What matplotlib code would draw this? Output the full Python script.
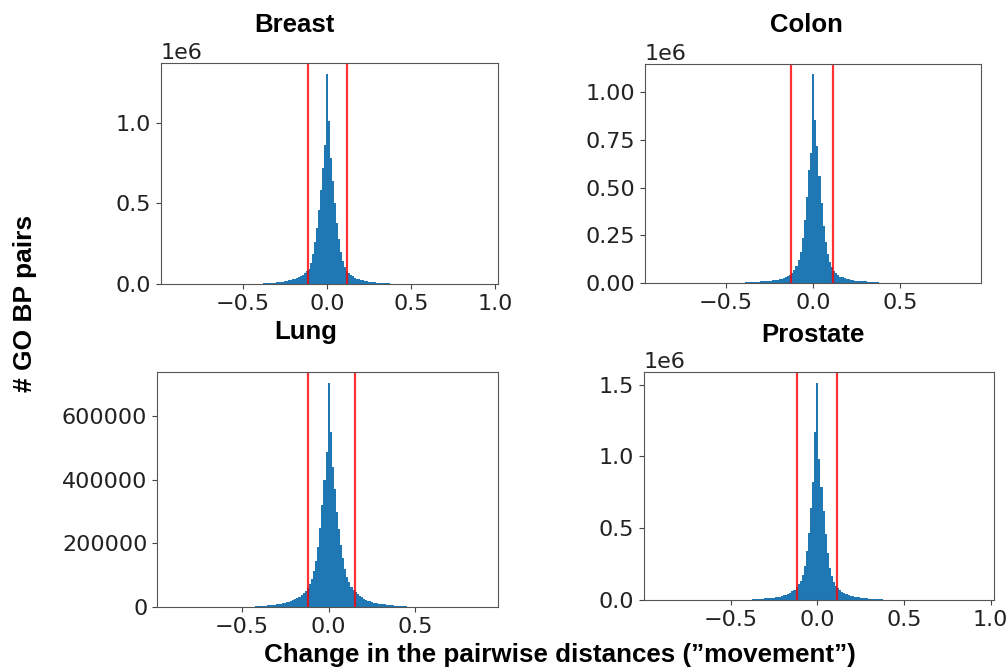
import numpy as np
import matplotlib
matplotlib.use("Agg")
import matplotlib.pyplot as plt

# histogram bins: width and index of first bin (bin k is centred on k * width)
bin_width = 0.012

# counts per bin in thousands
breast_start = -31
breast_counts = [4, 5, 6, 7, 8, 9, 10, 11, 13, 15, 17, 19, 22, 25, 28, 32,
                 37, 43, 50, 58, 68, 80, 95, 130, 185, 260, 350, 460, 580, 720,
                 860, 1305, 1010, 780, 640, 500, 380, 280, 200, 145, 105, 82,
                 66, 55, 47, 40, 34, 29, 25, 22, 19, 17, 15, 13, 11, 10, 9, 8,
                 7, 6, 5, 4, 4]

colon_start = -32
colon_counts = [3, 3, 4, 4, 5, 6, 7, 8, 9, 10, 11, 12, 13, 14, 16, 18, 20, 23,
                27, 31, 37, 44, 54, 68, 88, 118, 165, 235, 330, 450, 590, 680,
                1093, 856, 720, 560, 420, 300, 215, 150, 110, 82, 62, 50, 41,
                34, 29, 25, 22, 19, 17, 15, 13, 12, 11, 10, 9, 8, 7, 6, 5, 4,
                4, 3]

lung_start = -35
lung_counts = [2, 2.5, 3, 3.5, 4, 4.5, 5, 5.5, 6, 7, 8, 9, 10, 11.5, 13, 15,
               17, 19, 22, 25, 29, 33, 38, 44, 51, 60, 72, 88, 112, 145, 190,
               250, 320, 400, 488, 704, 550, 440, 370, 300, 245, 195, 155, 120,
               95, 78, 64, 54, 46, 40, 35, 30, 26, 23, 20, 18, 16, 14, 12.5,
               11, 10, 9, 8, 7, 6, 5.5, 5, 4.5, 4, 3.5, 3, 2.5, 2]

prostate_start = -31
prostate_counts = [5, 6, 7, 8, 9, 10, 11, 12, 13, 15, 17, 19, 21, 24, 27, 32,
                   37, 43, 50, 60, 72, 88, 108, 135, 175, 240, 340, 470, 640,
                   820, 1170, 1512, 980, 790, 620, 460, 330, 225, 165, 125,
                   100, 82, 68, 57, 48, 41, 35, 30, 26, 23, 20, 18, 16, 14,
                   12, 11, 10, 9, 8, 7, 6, 5, 4]

# thresholds (red lines)
breast_lines = [-0.111, 0.117]
colon_lines = [-0.128, 0.114]
lung_lines = [-0.119, 0.150]
prostate_lines = [-0.116, 0.112]

titles = ["Breast", "Colon", "Lung", "Prostate"]

W, H = 1008, 669
fig = plt.figure(figsize=(W / 100, H / 100), dpi=100)


def px_axes(left, top, right, bottom):
    return fig.add_axes([left / W, 1 - bottom / H, (right - left) / W, (bottom - top) / H])


panels = [
    (px_axes(161, 63, 498, 284), breast_start, breast_counts, breast_lines,
     (-0.988, 1.018), [-0.5, 0.0, 0.5, 1.0], [0, 0.5e6, 1.0e6]),
    (px_axes(645, 64, 981, 283), colon_start, colon_counts, colon_lines,
     (-0.965, 0.962), [-0.5, 0.0, 0.5], [0, 0.25e6, 0.5e6, 0.75e6, 1.0e6]),
    (px_axes(157, 372, 498, 607), lung_start, lung_counts, lung_lines,
     (-0.99, 0.977), [-0.5, 0.0, 0.5], [0, 200000, 400000, 600000]),
    (px_axes(644, 372, 994, 600), prostate_start, prostate_counts, prostate_lines,
     (-1.0, 1.019), [-0.5, 0.0, 0.5, 1.0], [0, 0.5e6, 1.0e6, 1.5e6]),
]

for ax, start, counts, lines, xlim, xt, yt in panels:
    counts = np.array(counts) * 1000
    idx = np.arange(start, start + len(counts))
    centers = idx * bin_width
    edges = np.append(centers - bin_width / 2, centers[-1] + bin_width / 2)
    ax.hist(centers, bins=edges, weights=counts, color="#1f77b4")
    for x in lines:
        ax.axvline(x, color="red", alpha=0.8, lw=1.6)
    ax.set_xlim(*xlim)
    ax.set_ylim(0, counts.max() * 1.05)
    ax.set_xticks(xt)
    ax.set_yticks(yt)
    ax.tick_params(labelsize=16, colors="#222222", color="#444444")
    ax.yaxis.get_offset_text().set_fontsize(16)
    ax.yaxis.get_offset_text().set_color("#222222")
    for s in ax.spines.values():
        s.set_color("#555555")

bold = dict(family=["Liberation Sans", "DejaVu Sans"], fontweight="bold")
fig.text(294 / W, 1 - 25 / H, "Breast", ha="center", va="center", fontsize=18.5, **bold)
fig.text(806 / W, 1 - 25 / H, "Colon", ha="center", va="center", fontsize=18.5, **bold)
fig.text(306 / W, 1 - 332 / H, "Lung", ha="center", va="center", fontsize=18.5, **bold)
fig.text(813 / W, 1 - 335 / H, "Prostate", ha="center", va="center", fontsize=18.5, **bold)
fig.text(560 / W, 1 - 655 / H, "Change in the pairwise distances (\u201dmovement\u201d)",
         ha="center", va="center", fontsize=18.7, **bold)
fig.text(25 / W, 1 - 303 / H, "# GO BP pairs", ha="center", va="center",
         rotation=90, fontsize=19, **bold)

fig.savefig("out.png", dpi=100)
